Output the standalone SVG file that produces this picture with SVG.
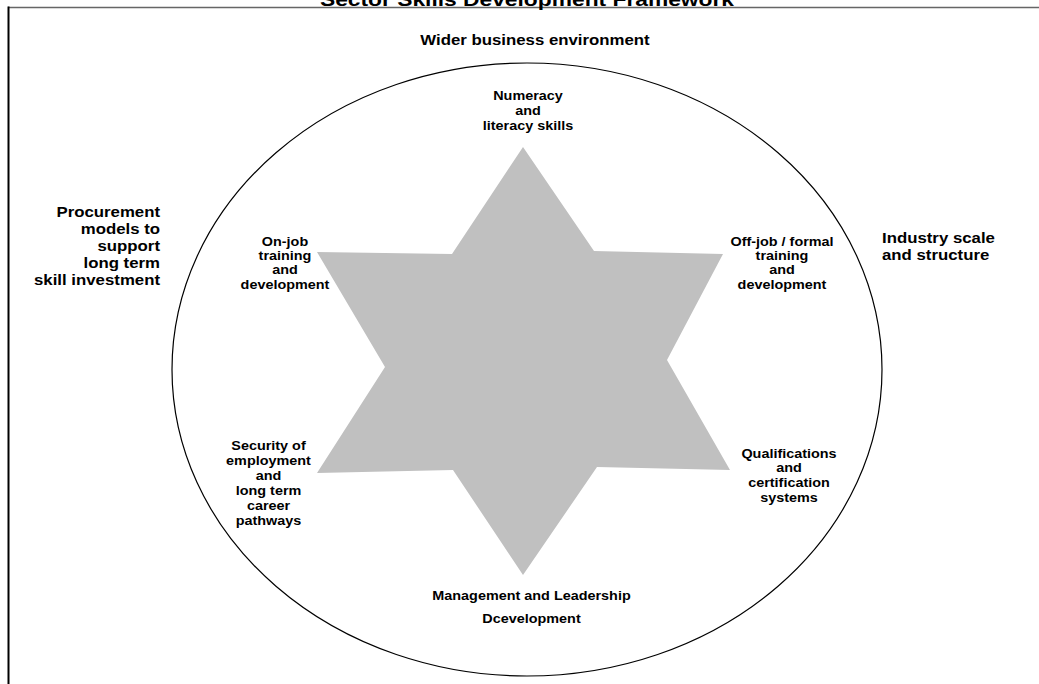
<svg xmlns="http://www.w3.org/2000/svg" width="1039" height="684" viewBox="0 0 1039 684">
<style>
text{font-family:"Liberation Sans",Arial,sans-serif;font-weight:bold;fill:#000}
.n{font-size:12px;text-anchor:middle}
.o{font-size:14px}
.t{font-size:19px;text-anchor:middle}
</style>
<rect x="0" y="0" width="1039" height="684" fill="#fff"/>
<g id="frame">
<line x1="8" y1="7.5" x2="1039" y2="7.5" stroke="#666" stroke-width="1.5"/>
<line x1="8.5" y1="6.5" x2="8.5" y2="684" stroke="#000" stroke-width="2"/>
</g>
<text class="t" transform="matrix(1.2 0 0 1 527 5.5)">Sector Skills Development Framework</text>
<g id="environment">
<ellipse cx="527" cy="369.5" rx="355" ry="306.5" fill="none" stroke="#000" stroke-width="1.2"/>
</g>
<g id="star">
<polygon points="523,147 594,251 723,254 667,360 730,470 597,467 523,575 453,470 317,473 385,367 317,252 452,254" fill="#c0c0c0"/>
</g>
<g id="wider"><text class="o" text-anchor="middle" transform="matrix(1.2 0 0 1 535 45)">Wider business environment</text></g>
<g id="procurement"><text class="o" text-anchor="end" transform="matrix(1.2 0 0 1 160 217)"><tspan x="0" dy="0">Procurement</tspan><tspan x="0" dy="17">models to</tspan><tspan x="0" dy="17">support</tspan><tspan x="0" dy="17">long term</tspan><tspan x="0" dy="17">skill investment</tspan></text></g>
<g id="industry"><text class="o" text-anchor="start" transform="matrix(1.2 0 0 1 882 243)"><tspan x="0" dy="0">Industry scale</tspan><tspan x="0" dy="17">and structure</tspan></text></g>
<g id="numeracy"><text class="n" transform="matrix(1.2 0 0 1 528 100)"><tspan x="0" dy="0">Numeracy</tspan><tspan x="0" dy="15">and</tspan><tspan x="0" dy="15">literacy skills</tspan></text></g>
<g id="onjob"><text class="n" transform="matrix(1.2 0 0 1 285 245.5)"><tspan x="0" dy="0">On-job</tspan><tspan x="0" dy="14.5">training</tspan><tspan x="0" dy="14.5">and</tspan><tspan x="0" dy="14.5">development</tspan></text></g>
<g id="offjob"><text class="n" transform="matrix(1.2 0 0 1 782 245.5)"><tspan x="0" dy="0">Off-job / formal</tspan><tspan x="0" dy="14.5">training</tspan><tspan x="0" dy="14.5">and</tspan><tspan x="0" dy="14.5">development</tspan></text></g>
<g id="security"><text class="n" transform="matrix(1.2 0 0 1 268.5 450)"><tspan x="0" dy="0">Security of</tspan><tspan x="0" dy="15">employment</tspan><tspan x="0" dy="15">and</tspan><tspan x="0" dy="15">long term</tspan><tspan x="0" dy="15">career</tspan><tspan x="0" dy="15">pathways</tspan></text></g>
<g id="qualifications"><text class="n" transform="matrix(1.2 0 0 1 789 457.5)"><tspan x="0" dy="0">Qualifications</tspan><tspan x="0" dy="15">and</tspan><tspan x="0" dy="15">certification</tspan><tspan x="0" dy="15">systems</tspan></text></g>
<g id="management"><text class="n" transform="matrix(1.2 0 0 1 531.5 600)"><tspan x="0" dy="0">Management and Leadership</tspan><tspan x="0" dy="23">Dcevelopment</tspan></text></g>
<g id="connectors"></g>
</svg>
